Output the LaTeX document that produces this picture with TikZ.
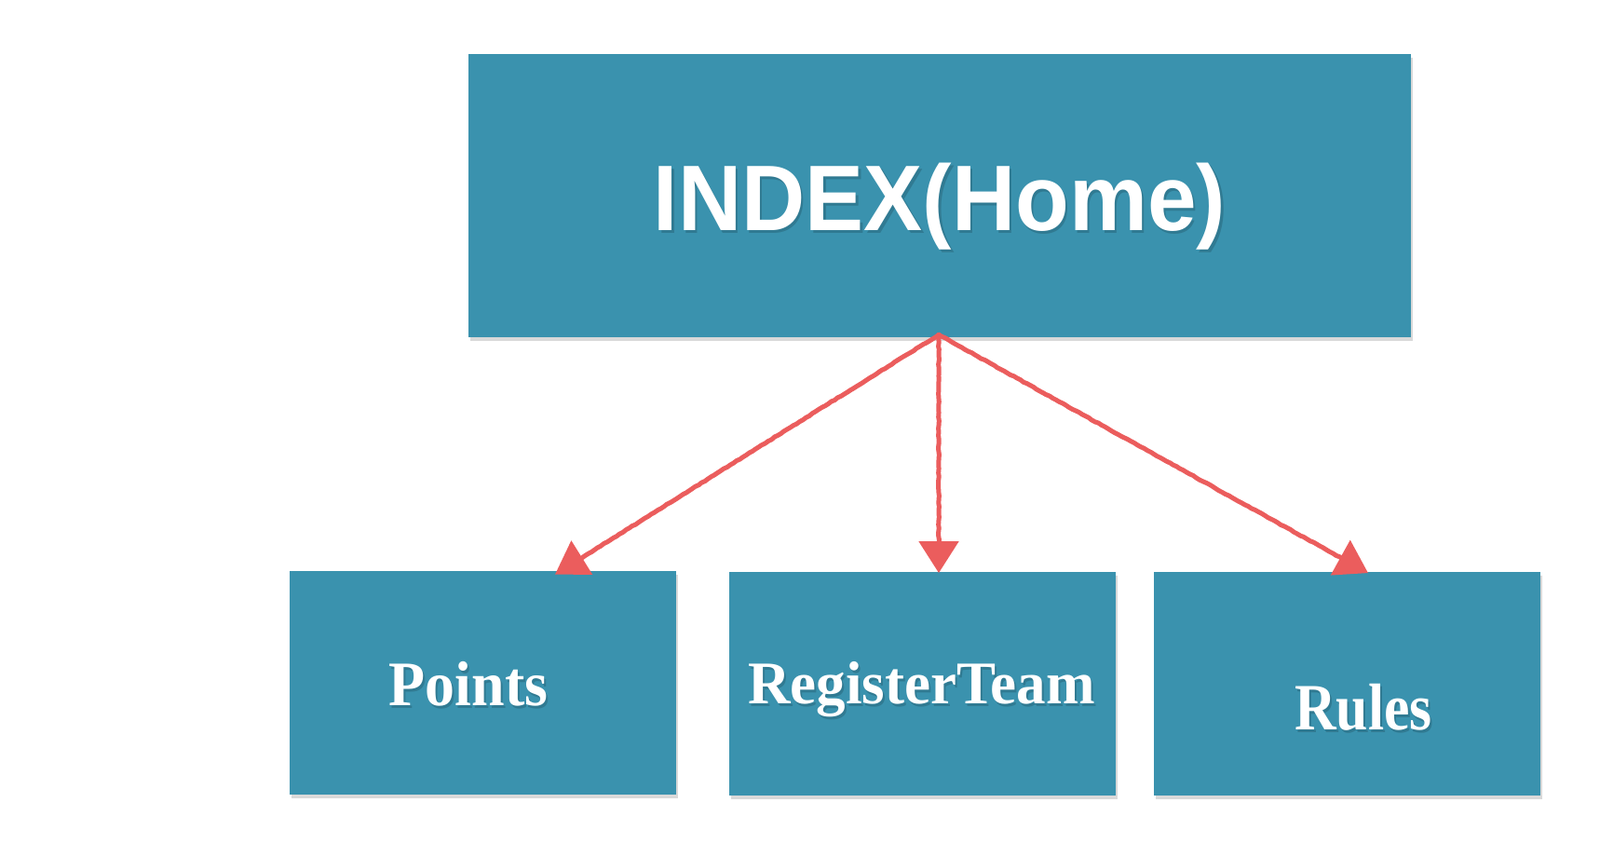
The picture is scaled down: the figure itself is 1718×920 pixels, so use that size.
\documentclass[tikz,border=0pt]{standalone}
\usepackage{fontspec}
\usepackage{graphicx}
\usetikzlibrary{arrows.meta,calc,shadows,decorations.pathmorphing}
\newfontfamily\headfont{Liberation Sans}
\newfontfamily\labfont{Liberation Serif}
\definecolor{boxteal}{HTML}{3A92AE}
\definecolor{arrowred}{HTML}{EB5D5D}
\begin{document}
\begin{tikzpicture}[x=0.5pt,y=-0.5pt,
  box/.style={rectangle, fill=boxteal, draw=none, inner sep=0pt,
    drop shadow={shadow xshift=0.8pt, shadow yshift=-2pt, opacity=0.15, fill=black}},
  bigbox/.style={box, minimum width=506pt, minimum height=152pt},
  smallbox/.style={box, minimum width=207.5pt, minimum height=120pt},
  headtext/.style={anchor=base, inner sep=0pt, text=white, font=\headfont\bfseries\fontsize{50}{60}\selectfont},
  labtext/.style={anchor=base, inner sep=0pt, text=white, font=\labfont\bfseries},
  shadowtext/.style={text=black, opacity=0.16},
  crayon/.style={draw=arrowred, line width=2.5pt, line cap=round, decorate,
    decoration={random steps, segment length=2pt, amplitude=0.2pt}},
  tipstyle/.style={draw=arrowred, fill=arrowred, line width=2.5pt,
    -{Triangle[length=17pt, width=21pt]}}
]
\useasboundingbox[fill=white] (0,0) rectangle (1718,920);

% boxes
\node[bigbox]   (home) at (1009,210)   {};
\node[smallbox] (pts)  at (518.5,733)  {};
\node[smallbox] (reg)  at (990.5,733.5) {};
\node[smallbox] (rul)  at (1446.5,733.5) {};

% texts with soft shadows
\node[headtext, shadowtext] (homesh) at (1011.5,250.5) {\scalebox{0.945}[1]{INDEX(Home)}};
\node[headtext] (homet) at (1009,247) {\scalebox{0.945}[1]{INDEX(Home)}};

\node[labtext, shadowtext, font=\labfont\bfseries\fontsize{34}{40}\selectfont] (ptssh) at (505,760) {\scalebox{0.94}[1]{Points}};
\node[labtext, font=\labfont\bfseries\fontsize{34}{40}\selectfont] (ptst) at (503,757) {\scalebox{0.94}[1]{Points}};

\node[labtext, shadowtext, font=\labfont\bfseries\fontsize{32.5}{40}\selectfont] (regsh) at (991.5,758) {\scalebox{0.97}[1]{RegisterTeam}};
\node[labtext, font=\labfont\bfseries\fontsize{32.5}{40}\selectfont] (regt) at (989.5,755) {\scalebox{0.97}[1]{RegisterTeam}};

\node[labtext, shadowtext, font=\labfont\bfseries\fontsize{35.5}{42}\selectfont] (rulsh) at (1466,786) {\scalebox{0.87}[1]{Rules}};
\node[labtext, font=\labfont\bfseries\fontsize{35.5}{42}\selectfont] (rult) at (1464,783) {\scalebox{0.87}[1]{Rules}};

% arrow end points
\coordinate (src) at ($(home.south)+(-1,-3)$);
\coordinate (pE) at ($(pts.north)+(77.5,4)$);
\coordinate (rE) at ($(reg.north)+(17.5,2)$);
\coordinate (uE) at ($(rul.north)+(22.5,2)$);

% connectors
\foreach \e in {pE,rE,uE}{
  \draw[crayon] (src) -- ($(\e)!10pt!(src)$);
  \draw[tipstyle] ($(\e)!14pt!(src)$) -- (\e);
}
\end{tikzpicture}
\end{document}
